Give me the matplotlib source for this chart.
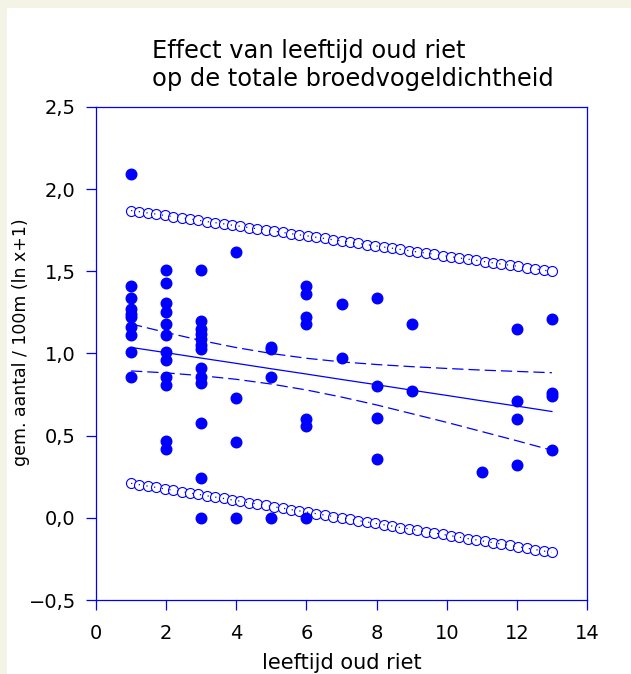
"""
Effect van leeftijd oud riet op de totale broedvogeldichtheid
scatter + regressielijn, betrouwbaarheidsband en voorspellingsband
"""

import matplotlib.pyplot as plt
from matplotlib.patches import Rectangle
from matplotlib.ticker import FuncFormatter

# waarnemingen: leeftijd oud riet (jaar) en gem. aantal / 100m (ln x+1)
leeftijd = [1, 1, 1, 1, 1, 1, 1, 1, 1, 1,
            2, 2, 2, 2, 2, 2, 2, 2, 2, 2, 2, 2,
            3, 3, 3, 3, 3, 3, 3, 3, 3, 3, 3, 3, 3,
            4, 4, 4, 4,
            5, 5, 5, 5,
            6, 6, 6, 6, 6, 6, 6,
            7, 7,
            8, 8, 8, 8,
            9, 9,
            11,
            12, 12, 12, 12,
            13, 13, 13, 13]
dichtheid = [2.09, 1.41, 1.34, 1.27, 1.24, 1.22, 1.16, 1.11, 1.01, 0.86,
             1.51, 1.43, 1.31, 1.25, 1.18, 1.11, 1.01, 0.96, 0.86, 0.81, 0.47, 0.42,
             1.51, 1.20, 1.15, 1.12, 1.09, 1.05, 1.03, 0.91, 0.86, 0.82, 0.58, 0.24, 0.0,
             1.62, 0.73, 0.46, 0.0,
             1.04, 1.03, 0.86, 0.0,
             1.41, 1.36, 1.22, 1.18, 0.60, 0.56, 0.0,
             1.30, 0.97,
             1.34, 0.80, 0.61, 0.36,
             1.18, 0.77,
             0.28,
             1.15, 0.71, 0.60, 0.32,
             1.21, 0.76, 0.74, 0.41]

# regressielijn en 95% betrouwbaarheidsband (gelezen per jaar)
lijn_x = [1, 2, 3, 4, 5, 6, 7, 8, 9, 10, 11, 12, 13]
lijn_fit = [1.037, 1.005, 0.972, 0.940, 0.907, 0.875, 0.842, 0.810, 0.777, 0.745, 0.712, 0.680, 0.647]
band_boven = [1.180, 1.128, 1.079, 1.036, 1.000, 0.971, 0.949, 0.933, 0.920, 0.909, 0.899, 0.891, 0.883]
band_onder = [0.894, 0.882, 0.865, 0.843, 0.814, 0.778, 0.735, 0.687, 0.634, 0.581, 0.525, 0.469, 0.411]

# voorspellingsband (open cirkels)
pred_x = [1.00, 1.24, 1.48, 1.72, 1.96, 2.20, 2.44, 2.68, 2.92, 3.16, 3.40, 3.64, 3.88,
          4.12, 4.36, 4.60, 4.84, 5.08, 5.32, 5.56, 5.80, 6.04, 6.28, 6.52, 6.76, 7.00,
          7.24, 7.48, 7.72, 7.96, 8.20, 8.44, 8.68, 8.92, 9.16, 9.40, 9.64, 9.88, 10.12,
          10.36, 10.60, 10.84, 11.08, 11.32, 11.56, 11.80, 12.04, 12.28, 12.52, 12.76, 13.00]
pred_boven = [1.870, 1.863, 1.855, 1.848, 1.840, 1.833, 1.826, 1.818, 1.811, 1.803, 1.796,
              1.789, 1.781, 1.774, 1.766, 1.759, 1.752, 1.744, 1.737, 1.729, 1.722,
              1.715, 1.707, 1.700, 1.692, 1.685, 1.678, 1.670, 1.663, 1.655, 1.648,
              1.641, 1.633, 1.626, 1.618, 1.611, 1.604, 1.596, 1.589, 1.581, 1.574,
              1.567, 1.559, 1.552, 1.544, 1.537, 1.530, 1.522, 1.515, 1.507, 1.500]
pred_onder = [0.210, 0.202, 0.193, 0.185, 0.176, 0.168, 0.160, 0.151, 0.143, 0.134, 0.126,
              0.118, 0.109, 0.101, 0.092, 0.084, 0.076, 0.067, 0.059, 0.050, 0.042,
              0.034, 0.025, 0.017, 0.008, 0.000, -0.008, -0.017, -0.025, -0.034, -0.042,
              -0.050, -0.059, -0.067, -0.076, -0.084, -0.092, -0.101, -0.109, -0.118, -0.126,
              -0.134, -0.143, -0.151, -0.160, -0.168, -0.176, -0.185, -0.193, -0.202, -0.210]

x_ticks = [0, 2, 4, 6, 8, 10, 12, 14]
y_ticks = [-0.5, 0.0, 0.5, 1.0, 1.5, 2.0, 2.5]

BLAUW = '#0000ff'

plt.rcParams['font.family'] = ['DejaVu Sans']

fig = plt.figure(figsize=(6.31, 6.74), dpi=100)
fig.patch.set_facecolor('#f4f4e6')
# wit vlak, crème rand links en boven
fig.patches.append(Rectangle((7 / 631, 0), 1, 1 - 8 / 674, transform=fig.transFigure,
                             facecolor='white', edgecolor='none', zorder=-10))

ax = fig.add_axes([96 / 631, 1 - 600 / 674, 491 / 631, 493 / 674])
ax.set_facecolor('white')

# voorspellingsband: open cirkels met stippellijn erdoor
for yy in (pred_boven, pred_onder):
    ax.plot(pred_x, yy, 'o', ms=7.2, mfc='white', mec=BLAUW, mew=0.8, zorder=2)
    ax.plot(pred_x, yy, color=BLAUW, lw=0.9, linestyle=(0, (1, 5.2)), zorder=3)

# regressie + betrouwbaarheidsband
ax.plot(lijn_x, lijn_fit, color=BLAUW, lw=0.9, zorder=3)
ax.plot(lijn_x, band_boven, color=BLAUW, lw=0.9, dashes=(9, 4), zorder=3)
ax.plot(lijn_x, band_onder, color=BLAUW, lw=0.9, dashes=(9, 4), zorder=3)

# waarnemingen
ax.plot(leeftijd, dichtheid, 'o', ms=7.6, color=BLAUW, mec=BLAUW, zorder=4)

ax.set_xlim(0, 14)
ax.set_ylim(-0.5, 2.5)
ax.set_xticks(x_ticks)
ax.set_yticks(y_ticks)
ax.xaxis.set_major_formatter(FuncFormatter(lambda v, p: f'{v:.0f}'))
ax.yaxis.set_major_formatter(
    FuncFormatter(lambda v, p: f'{v:.1f}'.replace('.', ',').replace('-', '\u2212')))

for s in ax.spines.values():
    s.set_color(BLAUW)
    s.set_linewidth(0.9)
ax.tick_params(axis='both', direction='out', length=7.5, width=0.9, color=BLAUW,
               labelcolor='black', labelsize=14)
ax.tick_params(axis='y', pad=7)
ax.tick_params(axis='x', pad=10)

ax.set_xlabel('leeftijd oud riet', fontsize=15, labelpad=7)
ax.set_ylabel('gem. aantal / 100m (ln x+1)', fontsize=12.5)
ax.yaxis.set_label_coords((21 - 96) / 491, (600 - 342) / 493)
ax.yaxis.label.set_va('center')

fig.text(152 / 631, 1 - 65 / 674, 'Effect van leeftijd oud riet\nop de totale broedvogeldichtheid',
         fontsize=17.4, ha='left', va='center', linespacing=1.25)

plt.savefig('out.png', dpi=100, facecolor=fig.get_facecolor())
